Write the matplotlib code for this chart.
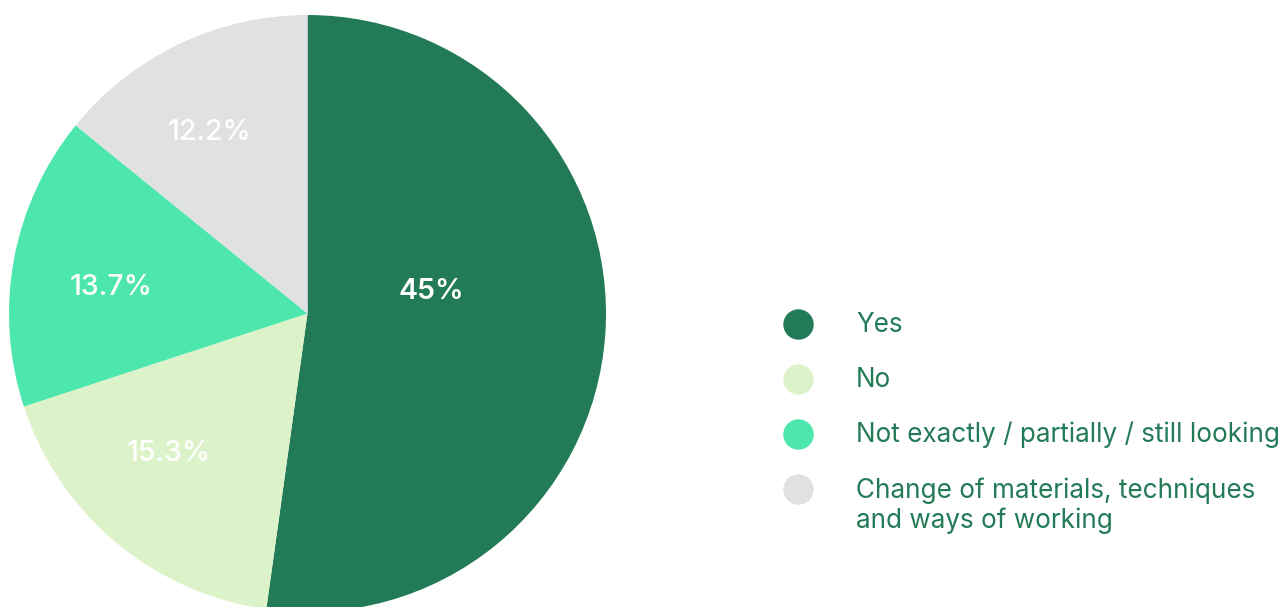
import numpy as np
import matplotlib.pyplot as plt

categories = ["Yes", "No", "Not exactly / partially / still looking",
              "Change of materials, techniques\nand ways of working"]
values = [45, 15.3, 13.7, 12.2]
value_labels = ["45%", "15.3%", "13.7%", "12.2%"]
colors = ["#237a57", "#dcf2c9", "#4de6ad", "#e0e1e3"]

plt.rcParams['font.family'] = ['Inter', 'DejaVu Sans']

W, H = 1282, 607
fig = plt.figure(figsize=(W / 100, H / 100), dpi=100)

# pie axes: centre (307.5, 313.5) px, radius 298.5 px
cx, cy, r = 307.5, 313.5, 298.5
ax = fig.add_axes([(cx - r) / W, (H - cy - r) / H, 2 * r / W, 2 * r / H])
wedges, _ = ax.pie(values, colors=colors, startangle=90, counterclock=False,
                   radius=1, wedgeprops=dict(linewidth=0))
ax.set_xlim(-1, 1)
ax.set_ylim(-1, 1)
ax.set_aspect('auto')
ax.axis('off')

label_r = [0.42, 0.66, 0.665, 0.69]
label_dang = [14, -5, 3, 3]
for w, txt, lr, da, i in zip(wedges, value_labels, label_r, label_dang, range(4)):
    mid = np.deg2rad((w.theta1 + w.theta2) / 2 + da)
    ax.text(lr * np.cos(mid), lr * np.sin(mid), txt, ha='center', va='center',
            color='white', fontsize=20.5,
            fontweight='semibold' if i == 0 else 'medium')

# legend drawn by hand so multi-line label aligns with first line
lax = fig.add_axes([0, 0, 1, 1])
lax.set_xlim(0, W)
lax.set_ylim(H, 0)
lax.axis('off')
row_y = [323, 378, 433, 488]
for y, c, lab in zip(row_y, colors, categories):
    lax.scatter([798], [y + 1], s=480, color=c, linewidths=0)
    lax.text(856, y - 11, lab, ha='left', va='top', fontsize=18.8,
             color="#237a57", linespacing=1.2)

fig.savefig("out.png", dpi=100)
